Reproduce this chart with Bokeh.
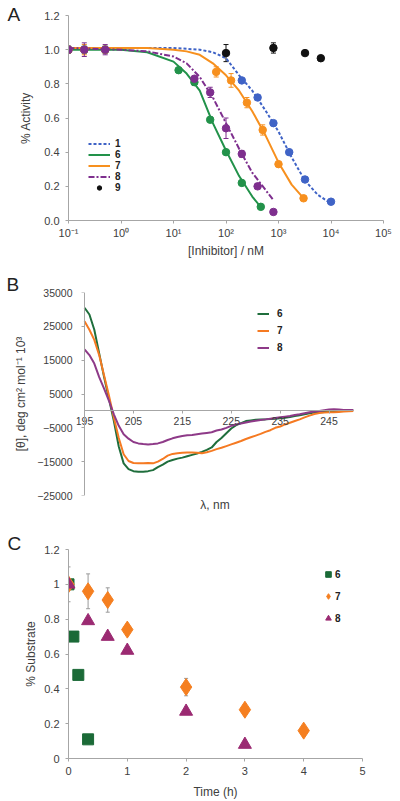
from bokeh.plotting import figure
from bokeh.models import (Range1d, FixedTicker, Legend, LegendItem, LinearAxis,
                          Whisker, ColumnDataSource, NumeralTickFormatter,
                          CustomJSTickFormatter, TeeHead)
from bokeh.layouts import column
from bokeh.embed import file_html
from bokeh.resources import INLINE

FONT = "Liberation Sans"
AXIS_COL = "#a6a6a6"
TXT_COL = "#404040"

# ---------------- Panel A data ----------------
a_names = ["1", "6", "7", "8"]
a_colors = ["#3f63c6", "#22924a", "#f7901e", "#7e2f8e"]
a_dashes = ["3 2", "solid", "solid", "6 2 2 2"]

a1_x = [0.1, 0.2, 0.5, 200, 400, 800, 1600, 3200, 10000]
a1_y = [1.0, 1.0, 1.0, 0.82, 0.72, 0.57, 0.40, 0.24, 0.11]
a1_e = [0.02, 0.02, 0.02, 0.01, 0.01, 0.01, 0.01, 0.01, 0.01]

a6_x = [0.1, 0.2, 0.5, 12.5, 25, 50, 100, 200, 460]
a6_y = [1.0, 1.0, 1.0, 0.88, 0.81, 0.59, 0.40, 0.22, 0.08]
a6_e = [0.02, 0.02, 0.02, 0.01, 0.02, 0.01, 0.01, 0.01, 0.01]

a7_x = [0.1, 0.2, 0.5, 65, 125, 250, 500, 1000, 3000]
a7_y = [1.0, 1.0, 1.0, 0.87, 0.82, 0.69, 0.53, 0.33, 0.13]
a7_e = [0.02, 0.03, 0.02, 0.03, 0.04, 0.03, 0.03, 0.01, 0.01]

a8_x = [0.1, 0.2, 0.5, 25, 50, 100, 200, 400, 800]
a8_y = [1.0, 1.0, 1.0, 0.83, 0.75, 0.54, 0.39, 0.20, 0.05]
a8_e = [0.02, 0.04, 0.03, 0.01, 0.03, 0.06, 0.02, 0.01, 0.01]

a9_x = [100, 800, 3200, 6400]
a9_y = [0.98, 1.01, 0.98, 0.95]
a9_e = [0.05, 0.03, 0.0, 0.0]

# fitted curves (log10 concentration, activity)
c1_logx = [-1, 0, 0.5, 1, 1.5, 1.75, 2, 2.25, 2.5, 2.75, 3, 3.25, 3.5, 3.75, 4]
c1_y = [1.01, 1.01, 1.01, 1.01, 1.0, 0.985, 0.95, 0.85, 0.76, 0.645, 0.52, 0.37, 0.235, 0.15, 0.10]
c6_logx = [-1, 0, 0.5, 1, 1.25, 1.5, 1.75, 2, 2.25, 2.5, 2.66]
c6_y = [1.0, 1.0, 0.985, 0.93, 0.86, 0.76, 0.57, 0.41, 0.26, 0.14, 0.08]
c7_logx = [-1, 0, 0.5, 1, 1.25, 1.5, 1.75, 2, 2.25, 2.5, 2.75, 3, 3.25, 3.48]
c7_y = [1.01, 1.01, 1.01, 1.0, 0.99, 0.97, 0.92, 0.85, 0.76, 0.64, 0.50, 0.34, 0.21, 0.13]
c8_logx = [-1, 0, 0.5, 1, 1.25, 1.5, 1.75, 2, 2.25, 2.5, 2.75, 2.9]
c8_y = [1.01, 1.0, 0.99, 0.96, 0.92, 0.84, 0.72, 0.57, 0.42, 0.28, 0.18, 0.12]

a_xticks = [0.1, 1, 10, 100, 1000, 10000, 100000]
a_xtick_labels = ["10\u207b\u00b9", "10\u2070", "10\u00b9", "10\u00b2", "10\u00b3", "10\u2074", "10\u2075"]
a_yticks = [0, 0.2, 0.4, 0.6, 0.8, 1.0, 1.2]

# ---------------- Panel B data ----------------
b_wavelength = list(range(195, 251))
b6 = [30.5, 28.5, 24.0, 17.0, 10.0, 3.5, -3.0, -10.5, -15.5, -17.2, -17.8, -18.0, -18.0, -17.8,
      -17.5, -16.6, -15.9, -15.0, -14.5, -14.1, -13.8, -13.4, -13.0, -12.6, -12.1, -11.5, -10.8,
      -9.2, -8.0, -6.6, -5.2, -4.2, -3.6, -3.0, -2.8, -2.6, -2.5, -2.5, -2.4, -2.3, -2.2, -2.0,
      -1.8, -1.5, -1.3, -1.0, -0.7, -0.5, -0.4, -0.3, -0.2, -0.1, 0.0, 0.1, 0.2, 0.2]
b7 = [26.5, 24.0, 21.0, 16.5, 10.5, 4.5, -2.0, -8.0, -12.8, -14.8, -15.4, -15.5, -15.5, -15.4,
      -15.5, -15.0, -14.2, -13.2, -12.7, -12.5, -12.4, -12.3, -12.3, -12.4, -12.5, -12.2, -11.8,
      -11.3, -10.9, -10.4, -9.9, -9.4, -8.9, -8.3, -7.8, -7.3, -6.8, -6.2, -5.7, -5.0, -4.6, -4.0,
      -3.5, -3.0, -2.5, -1.9, -1.4, -0.9, -0.6, -0.5, -0.4, -0.4, -0.3, -0.2, -0.1, 0.0]
b8 = [18.2, 16.5, 14.0, 10.0, 6.6, 3.0, -1.0, -4.4, -6.9, -8.2, -9.2, -9.6, -9.8, -9.9, -9.8,
      -9.6, -9.2, -8.6, -8.1, -7.7, -7.4, -7.2, -7.1, -6.9, -6.7, -6.5, -6.3, -5.8, -5.5, -5.0,
      -4.4, -4.0, -3.7, -3.4, -3.1, -2.9, -2.7, -2.5, -2.3, -2.1, -1.9, -1.7, -1.5, -1.2, -1.0,
      -0.7, -0.4, -0.2, 0.0, 0.2, 0.4, 0.5, 0.4, 0.3, 0.3, 0.3]
b_names = ["6", "7", "8"]
b_colors = ["#1f6e3c", "#f57a22", "#8e3a88"]
b_xticks = [195, 205, 215, 225, 235, 245]
b_yticks = [-25000, -15000, -5000, 5000, 15000, 25000, 35000]

# ---------------- Panel C data ----------------
c6_t = [0, 0.083, 0.167, 0.333]
c6_s = [1.0, 0.70, 0.48, 0.11]
c7_t = [0, 0.333, 0.667, 1, 2, 3, 4]
c7_s = [1.0, 0.96, 0.91, 0.74, 0.41, 0.28, 0.16]
c7_err = [0.10, 0.10, 0.07, 0.03, 0.05, 0.0, 0.0]
c8_t = [0, 0.333, 0.667, 1, 2, 3]
c8_s = [1.0, 0.79, 0.70, 0.62, 0.27, 0.08]
c_colors = ["#1b6a37", "#f57f20", "#9b2a72"]
c_yticks = [0, 0.2, 0.4, 0.6, 0.8, 1.0, 1.2]
c_xticks = [0, 1, 2, 3, 4, 5]


def style_axis(ax, fs="11px"):
    ax.axis_line_color = AXIS_COL
    ax.major_tick_line_color = AXIS_COL
    ax.minor_tick_line_color = None
    ax.major_tick_out = 3
    ax.major_tick_in = 0
    ax.major_label_text_font = FONT
    ax.major_label_text_font_size = fs
    ax.major_label_text_color = TXT_COL
    ax.axis_label_text_font = FONT
    ax.axis_label_text_font_size = "12px"
    ax.axis_label_text_font_style = "normal"
    ax.axis_label_text_color = TXT_COL


def base_fig(**kw):
    p = figure(output_backend="svg", toolbar_location=None, frame_align=False, **kw)
    p.grid.visible = False
    p.outline_line_color = None
    p.background_fill_color = "white"
    p.border_fill_color = "white"
    return p


def panel_title(p, txt, offset, standoff):
    p.title.text = txt
    p.title.align = "left"
    p.title.offset = offset
    p.title.standoff = standoff
    p.title.text_font = FONT
    p.title.text_font_size = "19px"
    p.title.text_font_style = "normal"
    p.title.text_color = "#222222"


# ================= Panel A =================
pA = base_fig(width=400, height=270, x_axis_type="log",
              x_range=Range1d(0.1, 1e5), y_range=Range1d(0, 1.2),
              min_border_left=68, min_border_right=17, min_border_top=15, min_border_bottom=50)
style_axis(pA.xaxis[0])
style_axis(pA.yaxis[0])
pA.xaxis.ticker = FixedTicker(ticks=a_xticks)
pA.xaxis.major_label_overrides = dict(zip(a_xticks, a_xtick_labels))
pA.xaxis.axis_label = "[Inhibitor] / nM"
pA.xaxis.major_label_standoff = 3
pA.xaxis.axis_label_standoff = 2
pA.yaxis.ticker = FixedTicker(ticks=a_yticks)
pA.yaxis.formatter = NumeralTickFormatter(format="0.0")
pA.yaxis.axis_label = "% Activity"
pA.yaxis.major_label_standoff = 6
pA.yaxis.axis_label_standoff = 8

series_pts = [(a1_x, a1_y, a1_e), (a6_x, a6_y, a6_e), (a7_x, a7_y, a7_e), (a8_x, a8_y, a8_e)]
curves = [(c1_logx, c1_y), (c6_logx, c6_y), (c7_logx, c7_y), (c8_logx, c8_y)]
legend_items = []
for (xs, ys, es), (lx, ly), col, dash, name in zip(series_pts, curves, a_colors, a_dashes, a_names):
    cx = [10 ** v for v in lx]
    lr = pA.line(cx, ly, line_color=col, line_width=2, line_dash=dash)
    src = ColumnDataSource(dict(x=xs, y=ys, lo=[y - e for y, e in zip(ys, es)],
                                hi=[y + e for y, e in zip(ys, es)]))
    pA.add_layout(Whisker(source=src, base="x", lower="lo", upper="hi", line_color=col,
                          line_width=1,
                          upper_head=TeeHead(size=5, line_color=col),
                          lower_head=TeeHead(size=5, line_color=col)))
    pA.scatter("x", "y", source=src, size=7.5, color=col)
    legend_items.append(LegendItem(label=name, renderers=[lr]))

src9 = ColumnDataSource(dict(x=a9_x, y=a9_y, lo=[y - e for y, e in zip(a9_y, a9_e)],
                             hi=[y + e for y, e in zip(a9_y, a9_e)]))
pA.add_layout(Whisker(source=src9, base="x", lower="lo", upper="hi", line_color="#111111",
                      upper_head=TeeHead(size=5, line_color="#111111"),
                      lower_head=TeeHead(size=5, line_color="#111111")))
r9 = pA.scatter("x", "y", source=src9, size=7.5, color="#111111")
legend_items.append(LegendItem(label="9", renderers=[r9]))

legA = Legend(items=legend_items, location=(20, 27), padding=0, margin=0, spacing=0,
              glyph_width=22, glyph_height=11, label_height=11, label_standoff=5,
              label_text_font=FONT, label_text_font_size="10px", label_text_font_style="bold",
              label_text_color="#222222", background_fill_alpha=0, border_line_color=None)
pA.add_layout(legA)
panel_title(pA, "A", -61, -19)

# ================= Panel B =================
pB = base_fig(width=400, height=260, x_range=Range1d(193.36, 250), y_range=Range1d(-25000, 35000),
              min_border_left=76, min_border_right=47, min_border_top=22, min_border_bottom=35)
# x axis drawn along the zero line
style_axis(pB.xaxis[0], fs="10.5px")
pB.xaxis.fixed_location = 0
pB.xaxis.bounds = (195, 250)
pB.xaxis.ticker = FixedTicker(ticks=b_xticks)
pB.xaxis.major_label_standoff = 3
# left axis: labels only
style_axis(pB.yaxis[0], fs="10.5px")
pB.yaxis.ticker = FixedTicker(ticks=b_yticks)
pB.yaxis.axis_line_color = None
pB.yaxis.major_tick_line_color = None
pB.yaxis.major_label_standoff = 1
pB.yaxis.axis_label = "[\u03b8], deg cm\u00b2 mol\u207b\u00b9 10\u00b3"
pB.yaxis.axis_label_standoff = 6
# y axis line with ticks at 195 nm
yline = LinearAxis(fixed_location=195, ticker=FixedTicker(ticks=b_yticks))
style_axis(yline, fs="10.5px")
yline.major_label_text_color = None
pB.add_layout(yline, "left")
# x axis title at the bottom
xlab = LinearAxis(axis_label="\u03bb, nm", ticker=FixedTicker(ticks=[]))
style_axis(xlab)
xlab.axis_line_color = None
xlab.major_tick_line_color = None
xlab.axis_label_standoff = 2
pB.add_layout(xlab, "below")

b_items = []
for vals, col, name in zip([b6, b7, b8], b_colors, b_names):
    r = pB.line(b_wavelength, [v * 1000 for v in vals], line_color=col, line_width=2)
    b_items.append(LegendItem(label=name, renderers=[r]))
legB = Legend(items=b_items, location=(181, 139), padding=0, margin=0, spacing=0,
              glyph_width=12, glyph_height=17, label_height=17, label_standoff=8,
              label_text_font=FONT, label_text_font_size="10px", label_text_font_style="bold",
              label_text_color="#222222", background_fill_alpha=0, border_line_color=None)
pB.add_layout(legB)
panel_title(pB, "B", -70, -5)

# ================= Panel C =================
pC = base_fig(width=400, height=271, x_range=Range1d(0, 5), y_range=Range1d(0, 1.2),
              min_border_left=68, min_border_right=38, min_border_top=19, min_border_bottom=43)
style_axis(pC.xaxis[0])
style_axis(pC.yaxis[0])
pC.xaxis.ticker = FixedTicker(ticks=c_xticks)
pC.xaxis.axis_label = "Time (h)"
pC.xaxis.major_label_standoff = 5
pC.xaxis.axis_label_standoff = 7
pC.yaxis.ticker = FixedTicker(ticks=c_yticks)
pC.yaxis.formatter = CustomJSTickFormatter(code="return String(Math.round(tick*10)/10);")
pC.yaxis.axis_label = "% Substrate"
pC.yaxis.major_label_standoff = 6
pC.yaxis.axis_label_standoff = 3

src7 = ColumnDataSource(dict(x=c7_t, y=c7_s, lo=[y - e for y, e in zip(c7_s, c7_err)],
                             hi=[y + e for y, e in zip(c7_s, c7_err)]))
pC.add_layout(Whisker(source=src7, base="x", lower="lo", upper="hi", line_color="#9a9a9a",
                      upper_head=TeeHead(size=4, line_color="#9a9a9a"),
                      lower_head=TeeHead(size=4, line_color="#9a9a9a")))
r6 = pC.scatter(c6_t, c6_s, marker="square", size=11, color=c_colors[0])
r7 = pC.scatter("x", "y", source=src7, marker="diamond", size=17, color=c_colors[1])
r8 = pC.scatter(c8_t, c8_s, marker="triangle", size=13, color=c_colors[2])
legC = Legend(items=[LegendItem(label="6", renderers=[r6]), LegendItem(label="7", renderers=[r7]),
                     LegendItem(label="8", renderers=[r8])],
              location=(253, 129), padding=0, margin=0, spacing=0,
              glyph_width=14, glyph_height=22, label_height=22, label_standoff=0,
              label_text_font=FONT, label_text_font_size="10px", label_text_font_style="bold",
              label_text_color="#222222", background_fill_alpha=0, border_line_color=None)
pC.add_layout(legC)
panel_title(pC, "C", -61, -9)

layout = column(pA, pB, pC, spacing=0)
open("out.html", "w").write(file_html(layout, INLINE))
